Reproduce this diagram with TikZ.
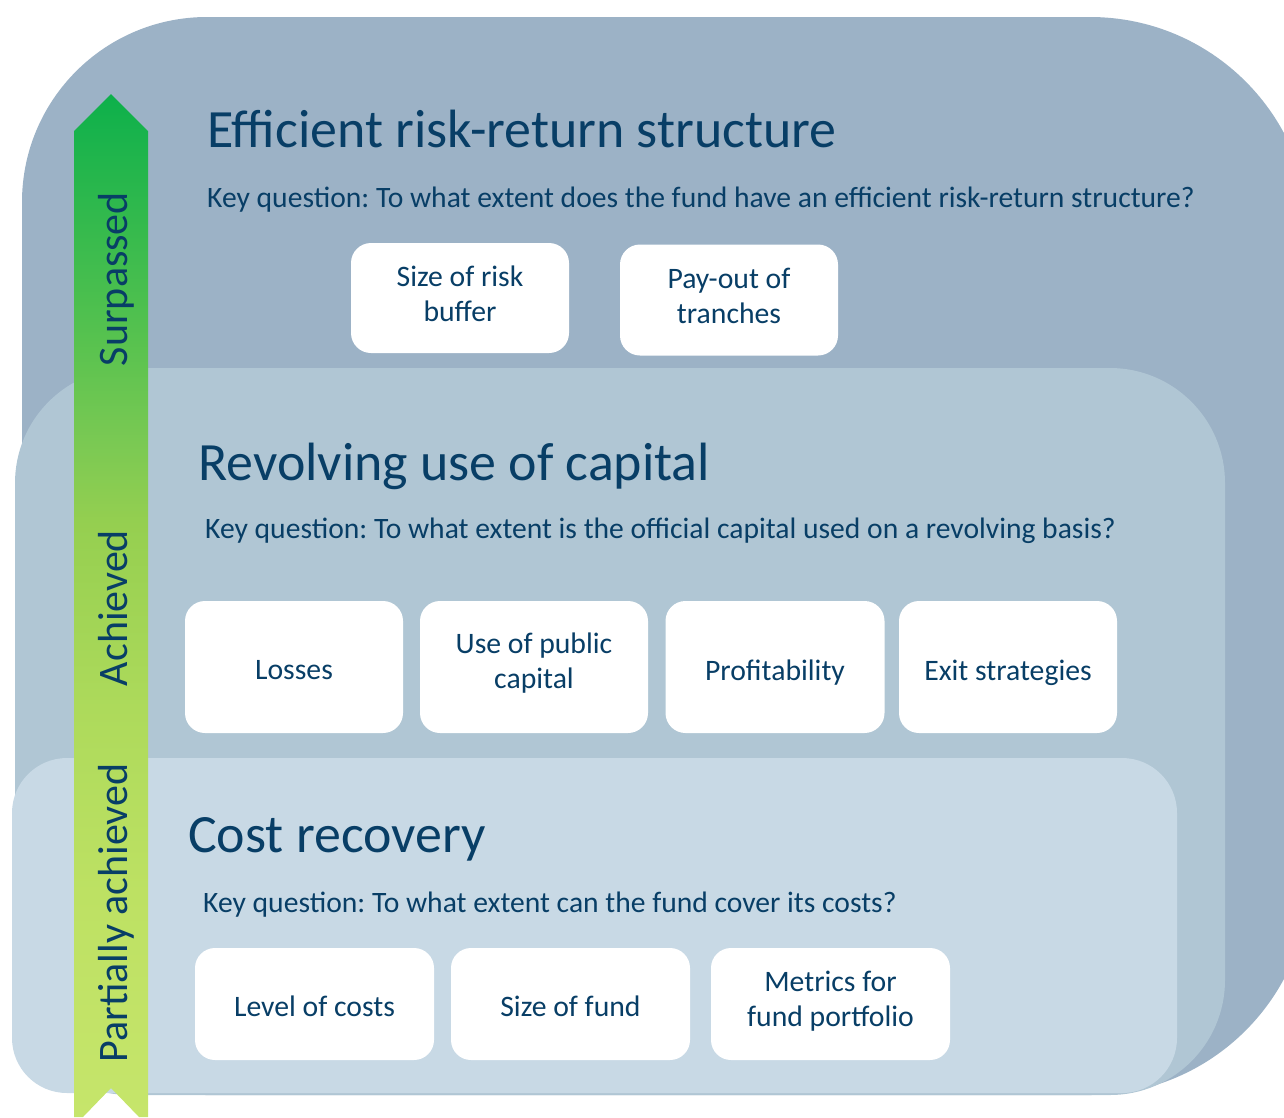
\documentclass[tikz,border=0pt]{standalone}
\usepackage{fontspec}
\setmainfont{Carlito}
\frenchspacing
\definecolor{textblue}{HTML}{083E66}
\definecolor{outerfill}{HTML}{9CB2C6}
\definecolor{midfill}{HTML}{B0C6D4}
\definecolor{innerfill}{HTML}{C8D9E5}
\definecolor{greenA}{HTML}{C6E56B}
\definecolor{greenB}{HTML}{BDE163}
\definecolor{greenC}{HTML}{ADDA5B}
\definecolor{greenD}{HTML}{95CF50}
\definecolor{greenE}{HTML}{7AC953}
\definecolor{greenF}{HTML}{57C24F}
\definecolor{greenG}{HTML}{0DB04B}
\pgfdeclareverticalshading{levelshade}{100bp}{color(0bp)=(greenA); color(25bp)=(greenA); color(36bp)=(greenB); color(45bp)=(greenC); color(54bp)=(greenD); color(58bp)=(greenE); color(63bp)=(greenF); color(75bp)=(greenG); color(100bp)=(greenG)}
\newcommand{\twoline}[2]{\begin{tabular}[t]{@{}c@{}}#1\\#2\end{tabular}}
\begin{document}
\begin{tikzpicture}[x=1pt, y=-1pt,
    title/.style={anchor=base west, text=textblue, inner sep=0pt, font=\fontsize{53.9}{60}\selectfont},
    question/.style={anchor=base west, text=textblue, inner sep=0pt, font=\fontsize{29.6}{36}\selectfont},
    crit/.style={fill=white, rounded corners=20pt, text=textblue, align=center, inner sep=0pt, font=\fontsize{29.7}{35}\selectfont},
    oneline/.style={text height=24pt, text depth=0pt},
    twolines/.style={text height=20pt, text depth=44pt},
    level/.style={rotate=90, anchor=base, text=textblue, inner sep=0pt, font=\fontsize{42}{48}\selectfont}]
    \useasboundingbox (0,0) rectangle (1284,1117);
    \clip (0,0) rectangle (1284,1117);
    % layers
    \fill[outerfill] (22,202) arc[start angle=180, end angle=270, radius=185] -- (1090,17)
      arc[start angle=270, end angle=360, radius=220] -- (1310,875)
      arc[start angle=0, end angle=90, radius=220] -- (207,1095)
      arc[start angle=90, end angle=180, radius=185] -- cycle;
    \fill[midfill, rounded corners=115pt] (15,368) rectangle (1225,1095);
    \fill[innerfill, rounded corners=55pt] (12,758) rectangle (1177,1093);
    % level arrow
    \shade[shading=levelshade]
      (111,94) -- (148,131) -- (148,1117) -- (139,1117) -- (111,1088) -- (83,1117) -- (74,1117) -- (74,131) -- cycle;
    \node[level] (surpassed) at (127,279) {Surpassed};
    \node[level] (achieved) at (127,608) {Achieved};
    \node[level] (partial) at (127,913) {Partially achieved};
    % efficient risk-return structure
    \node[title] (effhead) at (207,147) {Efficient risk-return structure};
    \node[question] (effq) at (207,207) {Key question: To what extent does the fund have an efficient risk-return structure?};
    \node[crit, twolines, minimum width=218pt, minimum height=110pt] (riskbuf) at (460,298) {\twoline{Size of risk}{buffer}};
    \node[crit, twolines, minimum width=218pt, minimum height=111pt] (payout) at (729,300) {\twoline{Pay-out of}{tranches}};
    % revolving use of capital
    \node[title] (revhead) at (198,480) {Revolving use of capital};
    \node[question] (revq) at (205,538) {Key question: To what extent is the official capital used on a revolving basis?};
    \node[crit, oneline, minimum width=218pt, minimum height=132pt] (losses) at (294,667) {Losses};
    \node[crit, twolines, minimum width=228pt, minimum height=132pt, text depth=47pt] (pubcap) at (534,667) {\twoline{Use of public}{capital}};
    \foreach \nm/\cx/\bw/\txt in {profit/775/219/Profitability, exits/1008/218/Exit strategies}
      \node[crit, oneline, minimum width=\bw pt, minimum height=132pt, text height=26pt] (\nm) at (\cx,667) {\txt};
    % cost recovery
    \node[title] (costhead) at (188,852) {Cost recovery};
    \node[question] (costq) at (203,912) {Key question: To what extent can the fund cover its costs?};
    \foreach \nm/\cx/\txt in {costlevel/314.5/Level of costs, fundsize/570.5/Size of fund}
      \node[crit, oneline, minimum width=239pt, minimum height=112pt] (\nm) at (\cx,1004) {\txt};
    \node[crit, twolines, minimum width=239pt, minimum height=112pt, text depth=46pt] (metrics) at (830.5,1004) {\twoline{Metrics for}{fund portfolio}};
\end{tikzpicture}
\end{document}
